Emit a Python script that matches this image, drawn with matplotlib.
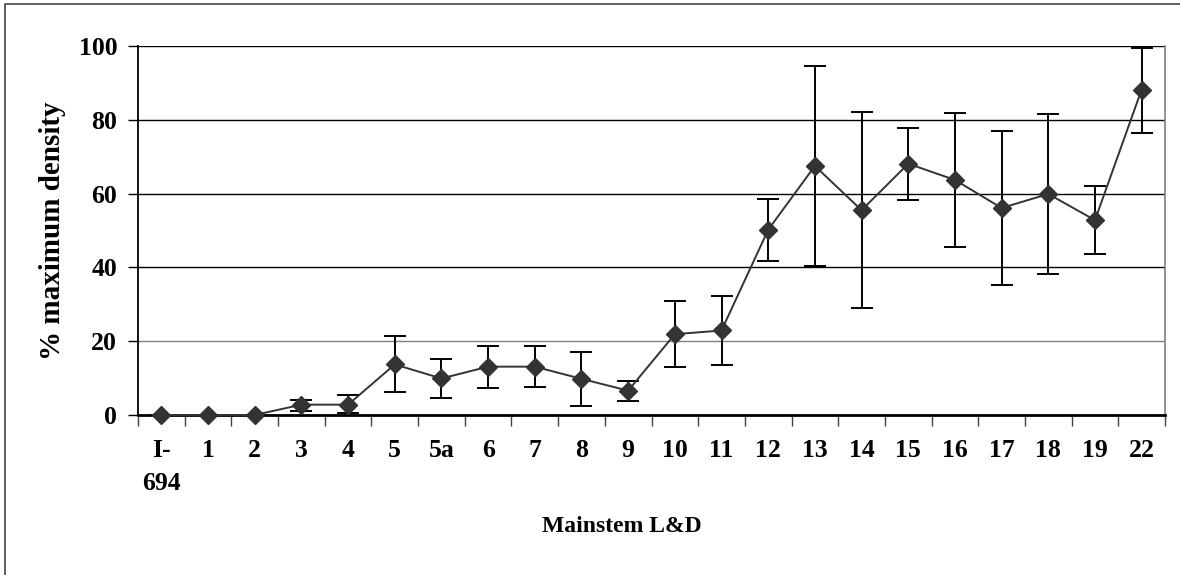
import numpy as np
import matplotlib
matplotlib.use("Agg")
import matplotlib.pyplot as plt
from matplotlib.lines import Line2D

# Data
sites = ["I-\n694", "1", "2", "3", "4", "5", "5a", "6", "7", "8", "9",
         "10", "11", "12", "13", "14", "15", "16", "17", "18", "19", "22"]
density = [0, 0, 0, 2.8, 2.8, 13.7, 9.9, 13.1, 13.1, 9.8, 6.6,
           21.9, 22.9, 50.2, 67.5, 55.5, 68.1, 63.7, 56.1, 59.9, 52.8, 88.2]
err_low = [0, 0, 0, 1.6, 2.2, 7.6, 5.3, 5.7, 5.6, 7.4, 2.7,
           9.0, 9.3, 8.4, 27.0, 26.6, 9.8, 18.2, 20.9, 21.7, 9.3, 11.7]
err_high = [0, 0, 0, 1.2, 2.6, 7.6, 5.3, 5.7, 5.6, 7.4, 2.7,
            9.0, 9.3, 8.4, 27.0, 26.6, 9.8, 18.2, 20.9, 21.7, 9.3, 11.2]
yticks = [0, 20, 40, 60, 80, 100]

plt.rcParams['font.family'] = ['Liberation Serif', 'DejaVu Serif']
plt.rcParams['font.weight'] = 'bold'

W, H = 1180, 575
fig = plt.figure(figsize=(W / 100, H / 100), dpi=100)
ax = fig.add_axes([138 / W, 1 - 415 / H, (1165 - 138) / W, (415 - 46) / H])

x = np.arange(len(sites))
ax.errorbar(x, density, yerr=[err_low, err_high], fmt='none', ecolor='black',
            elinewidth=1.4, capsize=8, capthick=1.4, zorder=3, clip_on=False)
ax.plot(x, density, color='#333333', lw=1.4, marker='D', ms=9,
        markerfacecolor='#333333', markeredgecolor='#333333', zorder=4,
        clip_on=False)

ax.set_xlim(-0.5, len(sites) - 0.5)
ax.set_ylim(0, 100)
ax.set_yticks(yticks)
for yv in yticks[1:]:
    ax.axhline(yv, color='#808080' if yv == 20 else 'black', lw=1, zorder=1)

ax.set_xticks(x)
ax.set_xticklabels(sites, fontsize=18.5, fontweight='bold', linespacing=1.6,
                   va='top')
ax.set_xticks(np.arange(len(sites) + 1) - 0.5, minor=True)
ax.tick_params(axis='x', which='major', length=0, pad=17)
ax.tick_params(axis='x', which='minor', length=8, width=1, color='#404040',
               direction='out')
ax.tick_params(axis='y', length=7, width=1, direction='out', pad=8,
               labelsize=18.5)
for lab in ax.get_yticklabels():
    lab.set_fontweight('bold')

ax.spines['top'].set_visible(False)
ax.spines['right'].set_color('#808080')
ax.spines['right'].set_linewidth(1.2)
ax.spines['left'].set_color('black')
ax.spines['left'].set_linewidth(1.3)
ax.spines['bottom'].set_color('black')
ax.spines['bottom'].set_linewidth(2)

ax.set_ylabel('% maximum density', fontsize=21, fontweight='bold', labelpad=9)
fig.text(622 / W, 1 - 527 / H, 'Mainstem L&D', fontsize=17, fontweight='bold',
         ha='center', va='center')

# outer chart frame (left and top edges visible)
fig.add_artist(Line2D([5 / W, 5 / W, 1.0], [0.0, 1 - 4 / H, 1 - 4 / H],
                      transform=fig.transFigure, color='#444444', lw=1.2))

fig.savefig('out.png', dpi=100)
